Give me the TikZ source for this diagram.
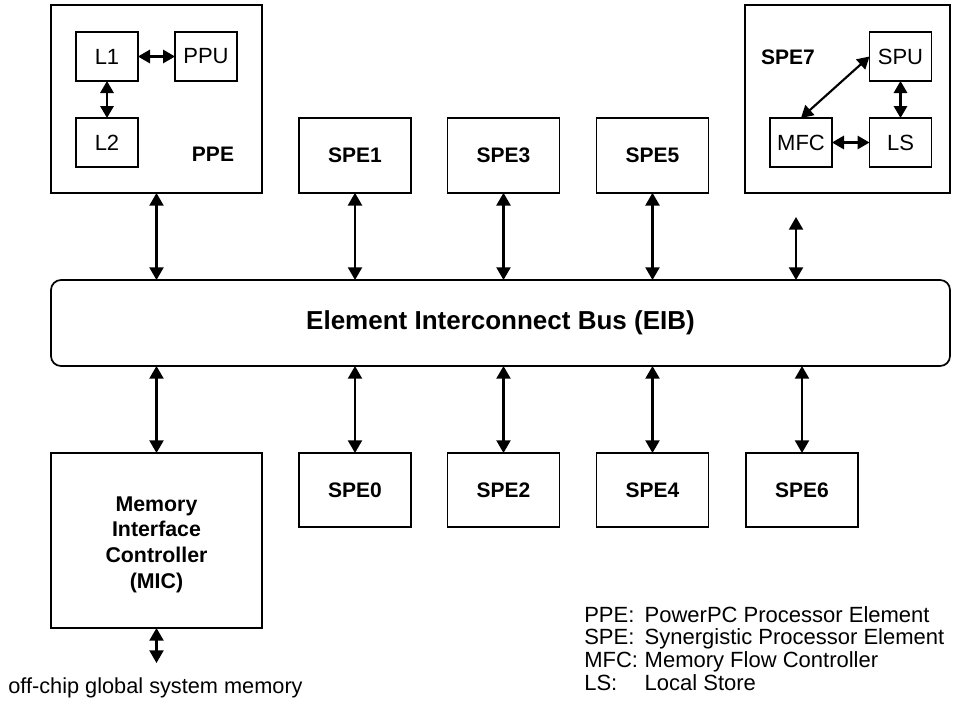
\documentclass[tikz,border=0pt]{standalone}
\usepackage{fontspec}
\setmainfont{Liberation Sans}
\usetikzlibrary{arrows.meta}
\begin{document}
\begin{tikzpicture}[x=0.75pt,y=-0.75pt,
  box/.style={draw=black, line width=1.3pt, fill=white, inner sep=0pt, outer sep=0pt},
  spebox/.style={box, minimum width=84pt, minimum height=56pt, font=\fontsize{15.75}{18}\selectfont\bfseries},
  inbox/.style={box, minimum width=46.5pt, minimum height=36.75pt, font=\fontsize{16.5}{18}\selectfont},
  bigbox/.style={box, minimum width=158.25pt, minimum height=141pt},
  lbl/.style={inner sep=0pt, font=\fontsize{15.75}{18}\selectfont\bfseries},
  bi/.style={{Triangle[width=10.5pt,length=9.5pt]}-{Triangle[width=10.5pt,length=9.5pt]}, line width=1.6pt},
  bis/.style={{Triangle[width=10pt,length=9pt]}-{Triangle[width=10pt,length=9pt]}, line width=1.6pt}
]
\useasboundingbox (0,0) rectangle (953,701);

% PPE
\node[bigbox] (PPE) at (156.5,99) {};
\node[inbox] (L1) at (107,56.5) {L1};
\node[inbox] (PPU) at (206,56.5) {PPU};
\node[inbox] (L2) at (107,142.5) {L2};
\node[lbl] (ppelbl) at (213,154) {PPE};

% SPE7
\node[box, minimum width=153.75pt, minimum height=141pt] (SPE7) at (847.5,99) {};
\node[inbox] (SPU) at (900.5,56.5) {SPU};
\node[inbox] (LS) at (900.5,142.5) {LS};
\node[inbox] (MFC) at (801,142.5) {MFC};
\node[lbl] (spe7lbl) at (788,57) {SPE7};

% top SPEs
\node[spebox] (SPE1) at (355,155.5) {SPE1};
\node[spebox] (SPE3) at (503.5,155.5) {SPE3};
\node[spebox] (SPE5) at (652.5,155.5) {SPE5};

% EIB
\node[box, rounded corners=7.5pt, minimum width=674.25pt, minimum height=64.5pt,
      font=\fontsize{19.5}{22}\selectfont\bfseries] (EIB) at (500.5,323) {Element Interconnect Bus (EIB)};

% bottom
\node[box, minimum width=158.25pt, minimum height=131.25pt] (MIC) at (156.5,540.5) {};
\node[inner sep=0pt, align=center, font=\fontsize{16}{19.3}\selectfont\bfseries] (MICtext) at (156.5,544.5) {Memory\\Interface\\Controller\\(MIC)};
\node[spebox, minimum height=55.5pt] (SPE0) at (355,490) {SPE0};
\node[spebox, minimum height=55.5pt] (SPE2) at (503.5,490) {SPE2};
\node[spebox, minimum height=55.5pt] (SPE4) at (652.5,490) {SPE4};
\node[spebox, minimum height=55.5pt] (SPE6) at (802,490) {SPE6};

\coordinate (c7) at (796,217);
\coordinate (mem) at (156.5,663);
\node[inner sep=0pt, font=\fontsize{16.3}{18}\selectfont] (offchip) at (155.5,688) {off-chip global system memory};

% legend
\node[anchor=base west, inner sep=0pt, font=\fontsize{16.5}{17}\selectfont] (legend) at (584,622)
 {\renewcommand{\arraystretch}{1}\begin{tabular}[t]{@{}l@{\hspace{5pt}}l@{}}
  PPE: & PowerPC Processor Element\\
  SPE: & Synergistic Processor Element\\
  MFC: & Memory Flow Controller\\
  LS:  & Local Store
 \end{tabular}};

% inner arrows
\draw[bis] (L1.east) -- (PPU.west);
\draw[bis] (L1.south) -- (L2.north);
\draw[bis] (MFC.east) -- (LS.west);
\draw[bis] (SPU.south) -- (LS.north);
\draw[bis] (MFC.north) -- (SPU.west);

% bus arrows
\draw[bi] (PPE.south) -- (PPE.south |- EIB.north);
\draw[bi] (SPE1.south) -- (SPE1.south |- EIB.north);
\draw[bi] (SPE3.south) -- (SPE3.south |- EIB.north);
\draw[bi] (SPE5.south) -- (SPE5.south |- EIB.north);
\draw[bi] (c7) -- (c7 |- EIB.north);
\draw[bi] (MIC.north |- EIB.south) -- (MIC.north);
\draw[bi] (SPE0.north |- EIB.south) -- (SPE0.north);
\draw[bi] (SPE2.north |- EIB.south) -- (SPE2.north);
\draw[bi] (SPE4.north |- EIB.south) -- (SPE4.north);
\draw[bi] (SPE6.north |- EIB.south) -- (SPE6.north);
\draw[bi] (MIC.south) -- (mem);
\end{tikzpicture}
\end{document}
